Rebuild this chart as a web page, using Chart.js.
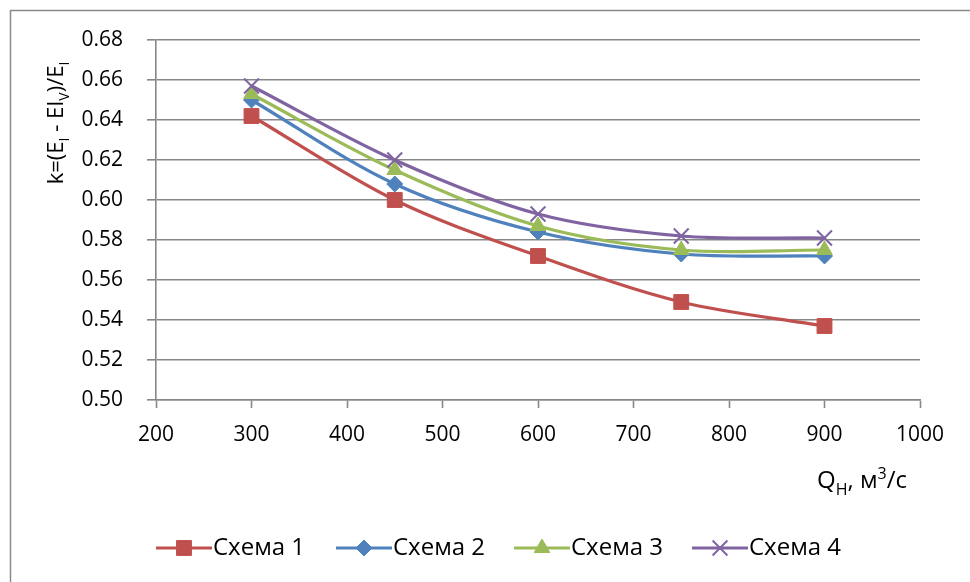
<!DOCTYPE html>
<html>
<head>
<meta charset="utf-8">
<script src="https://cdn.jsdelivr.net/npm/chart.js@4.4.0/dist/chart.umd.min.js"></script>
<style>
  html, body { margin: 0; padding: 0; background: #ffffff; }
  #wrap { width: 970px; height: 582px; }
</style>
</head>
<body>
<div id="wrap"><canvas id="c" width="970" height="582"></canvas></div>
<script>
// Discharge Q (m³/s) at which each scheme was evaluated
const flows = [300, 450, 600, 750, 900];

// Coefficient k for each scheme
const scheme1 = [0.642, 0.600, 0.572, 0.549, 0.537];
const scheme2 = [0.650, 0.608, 0.584, 0.573, 0.572];
const scheme3 = [0.653, 0.615, 0.587, 0.575, 0.575];
const scheme4 = [0.657, 0.620, 0.593, 0.582, 0.581];

const seriesNames = ['Схема 1', 'Схема 2', 'Схема 3', 'Схема 4'];

// Axis ranges
const xMin = 200, xMax = 1000, xStep = 100;
const yMin = 0.50, yMax = 0.68, yStep = 0.02;

const FONT = '"Open Sans", "Liberation Sans", sans-serif';
const GRID = '#878787';

const colors = ['#C0504D', '#4F81BD', '#9BBB59', '#8064A2'];
const markers = [
  { style: 'rect', radius: 10.5, border: 1 },
  { style: 'rectRot', radius: 8, border: 1 },
  { style: 'triangle', radius: 9, border: 1 },
  { style: 'crossRot', radius: 10.5, border: 2 }
];

const toPoints = vals => vals.map((v, i) => ({ x: flows[i], y: v }));
const allSeries = [scheme1, scheme2, scheme3, scheme4];

const datasets = allSeries.map((vals, i) => ({
  label: seriesNames[i],
  data: toPoints(vals),
  borderColor: colors[i],
  backgroundColor: colors[i],
  borderWidth: 3.2,
  tension: 0.33,
  pointStyle: markers[i].style,
  pointRadius: markers[i].radius,
  pointHoverRadius: markers[i].radius,
  pointBorderWidth: markers[i].border,
  pointBackgroundColor: colors[i],
  pointBorderColor: colors[i],
  order: 4 - i
}));

// Draws a run of text pieces, some of them sub- or superscripted
function drawRich(ctx, parts, x, y, size, align) {
  const measure = p => {
    ctx.font = (p.sub || p.sup ? Math.round(size * 0.65) : size) + 'px ' + FONT;
    return ctx.measureText(p.t).width;
  };
  const total = parts.reduce((s, p) => s + measure(p), 0);
  let cx = align === 'center' ? x - total / 2 : (align === 'right' ? x - total : x);
  ctx.textBaseline = 'alphabetic';
  ctx.textAlign = 'left';
  for (const p of parts) {
    const w = measure(p);
    const dy = p.sub ? size * 0.28 : (p.sup ? -size * 0.38 : 0);
    ctx.fillText(p.t, cx, y + dy);
    cx += w;
  }
}

const decorations = {
  id: 'decorations',
  afterDraw(chart) {
    const ctx = chart.ctx;
    ctx.save();

    // outer frame (left and top edges)
    ctx.strokeStyle = '#8a8a8a';
    ctx.lineWidth = 1.5;
    ctx.beginPath();
    ctx.moveTo(10.5, 582);
    ctx.lineTo(10.5, 10.5);
    ctx.lineTo(970, 10.5);
    ctx.stroke();

    ctx.fillStyle = '#000000';

    // y-axis title, rotated
    ctx.save();
    ctx.translate(55, 123);
    ctx.rotate(-Math.PI / 2);
    drawRich(ctx, [
      { t: 'k=(E' }, { t: 'I', sub: true }, { t: ' - EI' }, { t: 'V', sub: true },
      { t: ')/E' }, { t: 'I', sub: true }
    ], 0, 8, 22, 'center');
    ctx.restore();

    // x-axis title
    drawRich(ctx, [
      { t: 'Q' }, { t: 'Н', sub: true }, { t: ', м' }, { t: '3', sup: true }, { t: '/с' }
    ], 817, 488, 24, 'left');

    // legend
    const ly = 548;
    const starts = [156, 336, 514, 692];
    const lineLen = 56;
    const legendFont = '24px ' + FONT;
    for (let i = 0; i < 4; i++) {
      const x0 = starts[i];
      ctx.strokeStyle = colors[i];
      ctx.lineWidth = 3.2;
      ctx.beginPath();
      ctx.moveTo(x0, ly);
      ctx.lineTo(x0 + lineLen, ly);
      ctx.stroke();
      ctx.fillStyle = colors[i];
      ctx.strokeStyle = colors[i];
      ctx.lineWidth = markers[i].border;
      Chart.helpers.drawPoint(ctx, {
        pointStyle: markers[i].style,
        radius: markers[i].radius,
        borderWidth: markers[i].border,
        rotation: 0
      }, x0 + lineLen / 2, ly);
      ctx.fillStyle = '#000000';
      ctx.textAlign = 'left';
      ctx.textBaseline = 'middle';
      ctx.font = legendFont;
      ctx.fillText(seriesNames[i], x0 + lineLen + 1, ly);
    }
    ctx.restore();
  }
};

new Chart(document.getElementById('c'), {
  type: 'line',
  data: { datasets },
  plugins: [decorations],
  options: {
    responsive: false,
    animation: false,
    devicePixelRatio: 1,
    layout: { padding: { left: 0, top: 40, right: 50, bottom: 0 } },
    plugins: {
      legend: { display: false },
      tooltip: { enabled: false }
    },
    scales: {
      x: {
        type: 'linear',
        min: xMin,
        max: xMax,
        ticks: {
          stepSize: xStep,
          color: '#000000',
          font: { family: FONT, size: 21 },
          padding: 14,
          maxRotation: 0,
          callback: v => String(v)
        },
        grid: {
          display: true,
          drawOnChartArea: false,
          drawTicks: true,
          tickLength: 8,
          tickColor: GRID,
          tickWidth: 1.6,
          color: GRID
        },
        border: { display: true, color: GRID, width: 1.6 },
        afterFit(scale) { scale.height = 182; }
      },
      y: {
        type: 'linear',
        min: yMin,
        max: yMax,
        ticks: {
          stepSize: yStep,
          color: '#000000',
          font: { family: FONT, size: 21 },
          padding: 24,
          callback: v => Number(v).toFixed(2)
        },
        grid: {
          display: true,
          color: GRID,
          lineWidth: 1.6,
          drawTicks: true,
          tickLength: 9,
          tickColor: GRID,
          tickWidth: 1.6
        },
        border: { display: true, color: GRID, width: 1.6 },
        afterFit(scale) { scale.width = 156; }
      }
    }
  }
});
</script>
</body>
</html>
